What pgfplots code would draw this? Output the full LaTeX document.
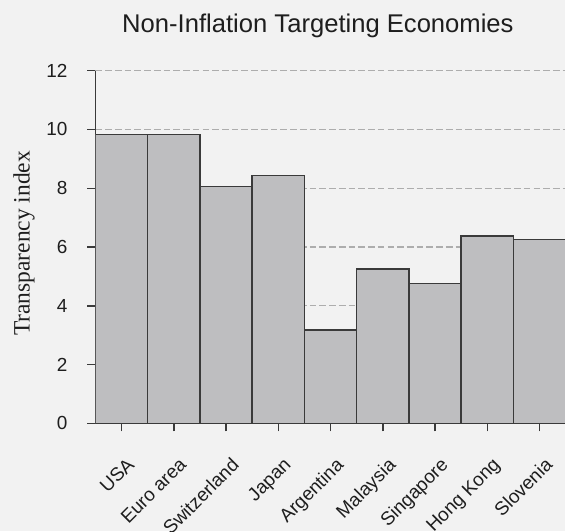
\documentclass[border=0pt]{standalone}
\usepackage{pgfplots}
\pgfplotsset{compat=1.18}
\usepackage{fontspec}
\setmainfont{Liberation Sans}
\newfontfamily\labelserif{Liberation Serif}

\definecolor{bg}{HTML}{F2F2F2}
\definecolor{barfill}{HTML}{BEBEC0}
\definecolor{baredge}{HTML}{3A3A3A}
\definecolor{gridgray}{HTML}{ADADAD}
\definecolor{txt}{HTML}{1E1E1E}

\begin{document}
\begin{tikzpicture}
% page frame: 565 x 531 px, 1px = 0.75pt, axis origin at (95.5px, 423.3px from top)
\fill[bg] (-71.6pt,-80.8pt) rectangle (352.1pt,317.5pt);
\useasboundingbox (-71.6pt,-80.8pt) rectangle (352.1pt,317.5pt);
\begin{axis}[
  scale only axis,
  width=352.65pt,
  height=264.5pt,
  ybar,
  bar width=1,
  bar shift=0pt,
  xmin=-0.5, xmax=8.5,
  ymin=0, ymax=12,
  ytick={0,2,...,12},
  xtick={0,...,8},
  xticklabels={USA,Euro area,Switzerland,Japan,Argentina,Malaysia,Singapore,Hong Kong,Slovenia},
  axis x line*=bottom,
  axis y line*=left,
  x axis line style={baredge, line width=1.5pt},
  y axis line style={baredge, line width=1.1pt},
  tick align=outside,
  major tick length=6pt,
  tick style={baredge, line width=1.1pt},
  ymajorgrids,
  grid style={gridgray, line width=0.9pt, dash pattern=on 5pt off 2.3pt},
  /pgf/number format/assume math mode=true,
  ticklabel style={font=\fontsize{14.2}{16}\selectfont, text=txt},
  % shifts act in the rotated frame
  xticklabel style={rotate=45, anchor=north east, inner sep=1pt, xshift=-10pt, yshift=-14.5pt},
  yticklabel style={anchor=east, xshift=-11.5pt},
  ylabel={\labelserif Transparency index},
  ylabel style={at={(axis description cs:-0.152,0.51)}, anchor=center, rotate=0,
    font=\fontsize{17.6}{20}\selectfont, text=txt},
]
\addplot[fill=barfill, draw=baredge, line width=1.1pt] coordinates {
  (0,9.83) (1,9.83) (2,8.06) (3,8.44) (4,3.18) (5,5.26) (6,4.75) (7,6.38) (8,6.25)
};
\end{axis}
\node[anchor=base, text=txt, font=\fontsize{19.2}{23}\selectfont] at (166.8pt,293.25pt)
  {Non-Inflation Targeting Economies};
\end{tikzpicture}
\end{document}
